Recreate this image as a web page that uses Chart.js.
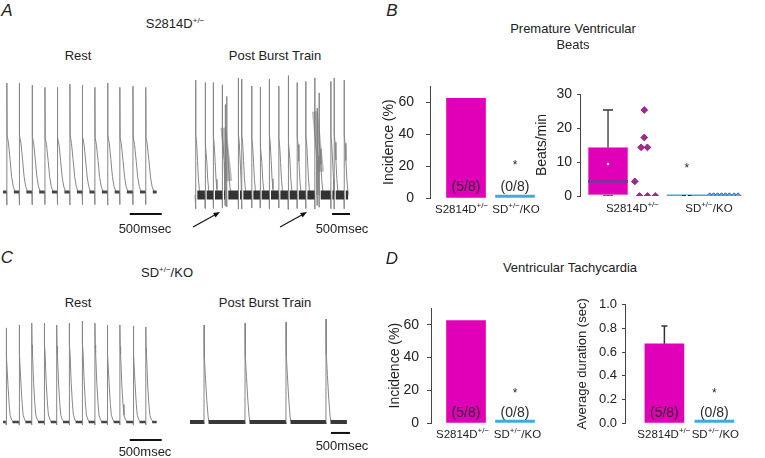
<!DOCTYPE html>
<html>
<head>
<meta charset="utf-8">
<script src="https://cdn.jsdelivr.net/npm/chart.js@4.4.1/dist/chart.umd.min.js"></script>
<style>
body { margin: 0; background: #fff; }
#fig { position: relative; width: 765px; height: 458px; overflow: hidden;
       font-family: 'Liberation Sans', Arial, sans-serif; color: #222; }
#fig canvas { position: absolute; }
.t { position: absolute; white-space: nowrap; transform: translate(-50%, -50%); font-size: 13px; }
.p { font-size: 17px; font-style: italic; }
sup { font-size: 8px; vertical-align: 5px; line-height: 0; }
</style>
</head>
<body>
<div id="fig">
  <canvas id="restA" width="165" height="147" style="left:0;top:75px"></canvas>
  <canvas id="postA" width="170" height="165" style="left:185px;top:70px"></canvas>
  <canvas id="restC" width="165" height="140" style="left:0;top:315px"></canvas>
  <canvas id="postC" width="170" height="140" style="left:185px;top:315px"></canvas>
  <canvas id="pvbInc" width="169" height="154" style="left:381px;top:66px"></canvas>
  <canvas id="pvbRate" width="231" height="148" style="left:534px;top:71px"></canvas>
  <canvas id="vtInc" width="163" height="153" style="left:387px;top:292px"></canvas>
  <canvas id="vtDur" width="190" height="153" style="left:575px;top:292px"></canvas>

  <div class="t p" style="left:7px;top:11px">A</div>
  <div class="t" style="left:175px;top:23px">S2814D<sup>+/−</sup></div>
  <div class="t" style="left:78px;top:55px">Rest</div>
  <div class="t" style="left:275px;top:55px">Post Burst Train</div>
  <div class="t" style="left:145px;top:228px">500msec</div>
  <div class="t" style="left:342px;top:228px">500msec</div>

  <div class="t p" style="left:392px;top:11px">B</div>
  <div class="t" style="left:573px;top:28px">Premature Ventricular</div>
  <div class="t" style="left:573px;top:44px">Beats</div>

  <div class="t p" style="left:7px;top:258px">C</div>
  <div class="t" style="left:167px;top:272px">SD<sup>+/−</sup>/KO</div>
  <div class="t" style="left:78px;top:302px">Rest</div>
  <div class="t" style="left:265px;top:302px">Post Burst Train</div>
  <div class="t" style="left:145px;top:451px">500msec</div>
  <div class="t" style="left:342px;top:445px">500msec</div>

  <div class="t p" style="left:392px;top:259px">D</div>
  <div class="t" style="left:570px;top:267px">Ventricular Tachycardia</div>
</div>

<script>
// ---- traces: beat onsets (ms) and spike heights (% of a full spike) ----
const restA_onsets = [60, 255, 455, 655, 850, 1045, 1240, 1435, 1635, 1825, 2030, 2230];
const restA_peaks  = [100, 100, 98, 96, 96, 99, 98, 96, 100, 96, 97, 96];
const postA_onsets = [20, 278, 509, 759, 834, 881, 1204, 1298, 1576, 1807, 2065,
                      2327, 2585, 2836, 3077, 3327, 3392, 3447, 3772, 3864, 4142];
const postA_peaks  = [99, 97, 97, 95, 78, 85, 101, 100, 94, 93, 100,
                      94, 103, 97, 98, 101, 75, 88, 98, 101, 99];
const restC_onsets = [47, 250, 448, 645, 838, 1035, 1238, 1435, 1628, 1825, 2033, 2230];
const restC_peaks  = [96, 99, 101, 101, 99, 101, 103, 101, 99, 99, 98, 97];
const postC_onsets = [368, 1447, 2525, 3577];
const postC_peaks  = [99, 101, 102, 105];

// beat shapes: time from onset (ms) and level (% of spike height)
const shapeA_t = [-4, 0, 1, 5, 25, 50, 75, 100, 130];
const shapeA_v = [0, -12, 100, 52, 45, 30, 14, 5, 0];
const shapeRestC_t = [-3, 0, 2, 6, 12, 30, 50, 65, 90, 120];
const shapeRestC_v = [0, -3, 100, 78, 70, 40, 18, 7, 2, 0];
const shapePostC_t = [-3, 0, 3, 10, 40, 75, 110, 140];
const shapePostC_v = [0, -2, 100, 66, 45, 22, 5, 0];

// premature ventricular beat bursts after the train (start/end time, level)
const pvbA_t = [[790, 950], [3330, 3500]];
const pvbA_v = [[58, 12], [72, 20]];
// arrows marking them: tail time, tail level, head time, head level
const arrowsA = [[-55, -27.6, 694, -14.7], [2361, -27.6, 3111, -14.7]];

// ---- panel B: premature ventricular beats ----
const groupX = [1, 2];
const groupLabels = [['S2814D', '+/−', ''], ['SD', '+/−', '/KO']];
const pvbIncidence = [62.5, 0];
const pvbCounts = ['(5/8)', '(0/8)'];
const pvbBox = [0, 0.3, 4.3, 14.3, 25.3];   // min, q1, median, q3, max
const pvbMean = 9.4;
const pvbRateS2814D  = [25.3, 17.2, 14.3, 14.3, 4.3, 0, 0, 0];
const pvbRateS2814DX = [1.46, 1.46, 1.42, 1.5, 1.34, 1.4, 1.5, 1.6];
const pvbRateSD  = [0, 0, 0, 0, 0, 0, 0, 0];
const pvbRateSDX = [2.29, 2.34, 2.39, 2.44, 2.49, 2.54, 2.6, 2.65];

// ---- panel D: ventricular tachycardia ----
const vtIncidence = [62.5, 0];
const vtCounts = ['(5/8)', '(0/8)'];
const vtDuration = [0.67, 0];
const vtDurationErr = [0.15, 0];

const FAM = "'Liberation Sans', Arial, sans-serif";
const MAGENTA = '#e000b8';
const BLUE = '#3fa9e4';
Chart.defaults.font.family = FAM;
Chart.defaults.color = '#222';
Chart.defaults.animation = false;

function buildTrace(onsets, peaks, shT, shV, tStart, tEnd) {
    const pts = [{x: tStart, y: 0}];
    onsets.forEach((t0, i) => {
        const next = i + 1 < onsets.length ? onsets[i + 1] + shT[0] : tEnd;
        shT.forEach((dt, k) => {
            if (t0 + dt < next) pts.push({x: t0 + dt, y: shV[k] * peaks[i] / 100});
        });
    });
    pts.push({x: tEnd, y: 0});
    return pts;
}

// baseline stretches between beats, drawn as a thicker noisy-looking band
function buildBaseline(onsets, shT, tStart, tEnd, resume) {
    const pts = [];
    let from = tStart;
    onsets.concat([tEnd - shT[0]]).forEach(t0 => {
        const to = t0 + shT[0];
        if (to > from) pts.push({x: from, y: 0}, {x: to, y: 0}, {x: to, y: null});
        from = Math.max(from, t0 + resume);
    });
    return pts;
}

const arrowPlugin = {
    id: 'arrows',
    afterDatasetsDraw(chart, args, opts) {
        const {ctx, scales: {x, y}} = chart;
        (opts.list || []).forEach(a => {
            const x1 = x.getPixelForValue(a[0]), y1 = y.getPixelForValue(a[1]);
            const x2 = x.getPixelForValue(a[2]), y2 = y.getPixelForValue(a[3]);
            const ang = Math.atan2(y2 - y1, x2 - x1);
            ctx.save();
            ctx.strokeStyle = '#111';
            ctx.fillStyle = '#111';
            ctx.lineWidth = 1.1;
            ctx.beginPath();
            ctx.moveTo(x1, y1);
            ctx.lineTo(x2 - 5 * Math.cos(ang), y2 - 5 * Math.sin(ang));
            ctx.stroke();
            ctx.beginPath();
            ctx.moveTo(x2, y2);
            ctx.lineTo(x2 - 7 * Math.cos(ang - 0.38), y2 - 7 * Math.sin(ang - 0.38));
            ctx.lineTo(x2 - 7 * Math.cos(ang + 0.38), y2 - 7 * Math.sin(ang + 0.38));
            ctx.closePath();
            ctx.fill();
            ctx.restore();
        });
    }
};

function traceChart(id, xr, yr, datasets, arrows) {
    new Chart(document.getElementById(id), {
        type: 'line',
        data: { datasets },
        options: {
            responsive: false,
            events: [],
            layout: { padding: 0 },
            elements: { point: { radius: 0 }, line: { tension: 0 } },
            plugins: { legend: { display: false }, tooltip: { enabled: false }, arrows: { list: arrows || [] } },
            scales: {
                x: { type: 'linear', min: xr[0], max: xr[1], display: false },
                y: { min: yr[0], max: yr[1], display: false }
            }
        },
        plugins: [arrowPlugin]
    });
}

function traceSets(onsets, peaks, shT, shV, tEnd, band, bandColor, resume, bar) {
    return [
        { data: buildTrace(onsets, peaks, shT, shV, 0, tEnd), borderColor: '#868686', borderWidth: 1, clip: false, order: 3 },
        { data: buildBaseline(onsets, shT, 0, tEnd, resume), borderColor: bandColor, borderWidth: band, clip: false, order: 1 },
        { data: [{x: bar[0], y: bar[1]}, {x: bar[0] + 500, y: bar[1]}], borderColor: '#111', borderWidth: 2, order: 0 }
    ];
}

// panel A rest: 32 px per 500 ms
traceChart('restA', [-46.9, 2531], [-27.5, 107.3],
    traceSets(restA_onsets, restA_peaks, shapeA_t, shapeA_v, 2400, 3, '#464646', 110, [1980, -20.2]));

// panel A post burst: 18 px per 500 ms
const postASets = traceSets(postA_onsets, postA_peaks, shapeA_t, shapeA_v, 4253, 9, '#333', 45, [3805, -16.4]);
pvbA_t.forEach((ts, i) => {
    postASets.push({ data: ts.map((t, k) => ({x: t, y: pvbA_v[i][k]})), borderColor: 'rgba(120,120,120,0.5)', borderWidth: 6, order: 2 });
});
traceChart('postA', [-277.8, 4444], [-34.5, 107.8], postASets, arrowsA);

// panel C rest
traceChart('restC', [-46.9, 2531], [-33.7, 109.2],
    traceSets(restC_onsets, restC_peaks, shapeRestC_t, shapeRestC_v, 2400, 2.5, '#454545', 100, [1980, -18.4]));

// panel C post burst: 19 px per 500 ms
traceChart('postC', [-131.6, 4342], [-33.7, 109.2],
    traceSets(postC_onsets, postC_peaks, shapePostC_t, shapePostC_v, 4129, 4, '#383838', 120, [3711, -11.2]));

// ---- bar panels ----
function drawSupLabel(ctx, parts, cx, cy) {
    const [a, s, b] = parts;
    const big = '11.5px ' + FAM, small = '8px ' + FAM;
    ctx.font = big;
    const wa = ctx.measureText(a).width, wb = ctx.measureText(b).width;
    ctx.font = small;
    const ws = ctx.measureText(s).width;
    let x = cx - (wa + ws + wb) / 2;
    ctx.textAlign = 'left';
    ctx.textBaseline = 'middle';
    ctx.fillStyle = '#222';
    ctx.font = big; ctx.fillText(a, x, cy); x += wa;
    ctx.font = small; ctx.fillText(s, x, cy - 4); x += ws;
    ctx.font = big; ctx.fillText(b, x, cy);
}

const groupText = {
    id: 'groupText',
    afterDatasetsDraw(chart, args, o) {
        const {ctx, scales: {x, y}} = chart;
        const base = y.getPixelForValue(0);
        ctx.save();
        groupLabels.forEach((lab, i) => drawSupLabel(ctx, lab, x.getPixelForValue(o.labelX[i]), base + o.labelDy));
        ctx.textAlign = 'center';
        ctx.textBaseline = 'middle';
        ctx.fillStyle = '#2a2a2a';
        ctx.font = '14px ' + FAM;
        (o.counts || []).forEach((c, i) => ctx.fillText(c, x.getPixelForValue(groupX[i]), base + o.countDy));
        ctx.font = '12px ' + FAM;
        ctx.fillText('*', x.getPixelForValue(groupX[1]), base + o.starDy);
        ctx.restore();
    }
};

function yAxis(max, step, every, title, width, tickLen, pad, size, titleSize, fmt) {
    return {
        min: 0, max,
        afterFit: s => { s.width = width; },
        ticks: {
            stepSize: step, padding: pad, color: '#222', font: { size },
            callback: v => Math.abs(v / every - Math.round(v / every)) < 1e-6 ? (fmt ? fmt(v) : v) : ''
        },
        grid: { drawOnChartArea: false, tickLength: tickLen, color: '#444' },
        border: { color: '#444' },
        title: { display: true, text: title, color: '#222', font: { size: titleSize }, padding: { top: 0, bottom: 0 } }
    };
}

function barChart(id, xr, yScale, datasets, textOpts) {
    new Chart(document.getElementById(id), {
        type: 'bar',
        data: { datasets },
        options: {
            responsive: false,
            events: [],
            layout: { padding: { top: 12, bottom: 22, left: 0, right: 0 } },
            plugins: { legend: { display: false }, tooltip: { enabled: false }, groupText: textOpts },
            scales: {
                x: { type: 'linear', min: xr[0], max: xr[1], offset: false, display: false },
                y: yScale
            }
        },
        plugins: [groupText]
    });
}

function incidenceBars(values) {
    return [{
        type: 'bar',
        data: values.map((v, i) => ({x: groupX[i], y: v})),
        backgroundColor: [MAGENTA, BLUE],
        borderWidth: 0,
        barThickness: 39,
        minBarLength: 3
    }];
}

barChart('pvbInc', [0.2653, 2.714], yAxis(70, 10, 20, 'Incidence (%)', 49, 4, 12, 14, 14),
    incidenceBars(pvbIncidence), { labelX: [0.91, 2.02], labelDy: 12, counts: pvbCounts, countDy: -11, starDy: -32 });

const rateSets = [
    { type: 'bar', data: [{x: groupX[0], y: [pvbBox[1], pvbBox[3]]}], backgroundColor: MAGENTA,
      borderColor: '#f07ad6', borderWidth: 1, borderSkipped: false, barThickness: 40, order: 10 },
    { type: 'line', data: [{x: groupX[0], y: pvbBox[3]}, {x: groupX[0], y: pvbBox[4]}], borderColor: '#333',
      borderWidth: 1.3, pointRadius: 0, order: 9 },
    { type: 'scatter', data: [{x: groupX[0], y: pvbBox[4]}, {x: groupX[0], y: pvbBox[0]}], pointStyle: 'line',
      radius: 5, borderColor: '#333', borderWidth: 1.5, order: 8 },
    { type: 'scatter', data: [{x: groupX[0], y: pvbBox[2]}], pointStyle: 'line', radius: 20,
      borderColor: '#8e2a9c', borderWidth: 3, order: 5 },
    { type: 'scatter', data: [{x: groupX[0], y: pvbMean}], pointStyle: 'circle', radius: 1.3,
      backgroundColor: '#fff', borderWidth: 0, order: 1 },
    { type: 'scatter', data: pvbRateS2814D.map((v, i) => ({x: pvbRateS2814DX[i], y: v})), pointStyle: 'rectRot',
      radius: 3.4, backgroundColor: '#a8248f', borderColor: '#7d1a6c', borderWidth: 0.8, order: 2 },
    { type: 'scatter', data: [{x: groupX[1], y: 0}], pointStyle: 'line', radius: 20,
      borderColor: BLUE, borderWidth: 3, order: 6 },
    { type: 'scatter', data: [{x: groupX[1], y: 0}], pointStyle: 'line', radius: 4.5,
      borderColor: '#222', borderWidth: 2, order: 4 },
    { type: 'scatter', data: [{x: groupX[1], y: 0}], pointStyle: 'circle', radius: 1.1,
      backgroundColor: '#fff', borderWidth: 0, order: 1 },
    { type: 'scatter', data: pvbRateSD.map((v, i) => ({x: pvbRateSDX[i], y: v})), pointStyle: 'rectRot',
      radius: 3.2, backgroundColor: '#5ea8e6', borderColor: '#2b6cb3', borderWidth: 1, order: 2 }
];
barChart('pvbRate', [0.6444, 2.7], yAxis(30, 5, 10, 'Beats/min', 46, 3, 5, 14, 14),
    rateSets, { labelX: [1.31, 2.28], labelDy: 13, starDy: -27 });

barChart('vtInc', [0.2857, 2.714], yAxis(70, 10, 20, 'Incidence (%)', 44, 4, 8, 14, 14),
    incidenceBars(vtIncidence), { labelX: [0.93, 2.05], labelDy: 12, counts: vtCounts, countDy: -10, starDy: -29 });

const durSets = incidenceBars(vtDuration);
durSets[0].order = 5;
durSets.push(
    { type: 'line', data: [{x: groupX[0], y: vtDuration[0]}, {x: groupX[0], y: vtDuration[0] + vtDurationErr[0]}],
      borderColor: '#333', borderWidth: 1.5, pointRadius: 0, order: 2 },
    { type: 'scatter', data: [{x: groupX[0], y: vtDuration[0] + vtDurationErr[0]}], pointStyle: 'line',
      radius: 3, borderColor: '#333', borderWidth: 1.5, order: 1 }
);
barChart('vtDur', [0.2115, 2.904], yAxis(1, 0.2, 0.2, 'Average duration (sec)', 50, 3, 5, 13, 13, v => v.toFixed(1)),
    durSets, { labelX: [0.99, 2.02], labelDy: 12, counts: vtCounts, countDy: -10, starDy: -29 });
</script>
</body>
</html>
